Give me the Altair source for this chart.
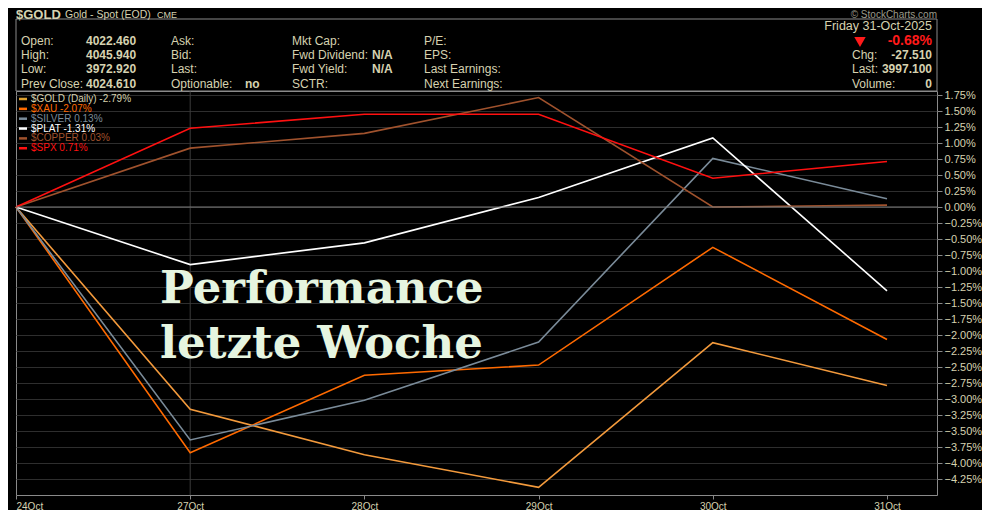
import altair as alt
import pandas as pd

# --- data -------------------------------------------------------------
dates = ["24Oct", "27Oct", "28Oct", "29Oct", "30Oct", "31Oct"]
symbols = ["$GOLD", "$XAU", "$SILVER", "$PLAT", "$COPPER", "$SPX"]
gold = [0.0, -3.16, -3.87, -4.38, -2.12, -2.79]
xau = [0.0, -3.84, -2.63, -2.47, -0.63, -2.07]
silver = [0.0, -3.64, -3.02, -2.11, 0.76, 0.13]
plat = [0.0, -0.90, -0.56, 0.15, 1.08, -1.31]
copper = [0.0, 0.92, 1.15, 1.71, 0.00, 0.03]
spx = [0.0, 1.23, 1.45, 1.45, 0.45, 0.71]
legend_labels = ["$GOLD (Daily) -2.79%", "$XAU -2.07%", "$SILVER 0.13%",
                 "$PLAT -1.31%", "$COPPER 0.03%", "$SPX 0.71%"]

line_colors = ["#f39a3c", "#ff6a00", "#7a8b99", "#ffffff", "#a0522d", "#ff1010"]
swatch_colors = ["#dca030", "#ff6a00", "#7a8b99", "#ffffff", "#a0522d", "#ff1010"]
label_colors = ["#d6d2b0", "#ff6a00", "#7a8b99", "#ffffff", "#a0522d", "#ff1010"]

col1_labels = ["Open:", "High:", "Low:", "Prev Close:"]
col1_values = ["4022.460", "4045.940", "3972.920", "4024.610"]
col2_labels = ["Ask:", "Bid:", "Last:", "Optionable:"]
col2_values = ["", "", "", "no"]
col3_labels = ["Mkt Cap:", "Fwd Dividend:", "Fwd Yield:", "SCTR:"]
col3_values = ["", "N/A", "N/A", ""]
col4_labels = ["P/E:", "EPS:", "Last Earnings:", "Next Earnings:"]
right_labels = ["", "Chg:", "Last:", "Volume:"]
right_values = ["-0.68%", "-27.510", "3997.100", "0"]

series = [gold, xau, silver, plat, copper, spx]
rows = []
for sym, vals in zip(symbols, series):
    for i, v in enumerate(vals):
        rows.append({"sym": sym, "idx": i, "pct": v})
df = pd.DataFrame(rows)

leg = pd.DataFrame({"i": range(len(symbols)), "label": legend_labels,
                    "swatch": swatch_colors, "tcol": label_colors})

KHAKI = "#d6d2b0"
FONT = "Liberation Sans"
W, H = 921, 404
one = pd.DataFrame({"a": [0]})
x_scale = alt.Scale(domain=[0, 5.287], nice=False, zero=False)
y_scale = alt.Scale(domain=[-4.5, 1.8125], nice=False, zero=False)


def txt(s, x, y, color=KHAKI, size=12, weight="normal", align="left", font=FONT):
    return alt.Chart(one).mark_text(
        text=s, align=align, baseline="middle", fontSize=size,
        fontWeight=weight, color=color, font=font
    ).encode(x=alt.value(x), y=alt.value(y))


label_expr = "[" + ",".join("'%s'" % d for d in dates) + "][datum.value]"
x_axis = alt.Axis(values=list(range(len(dates))), labelExpr=label_expr,
                  grid=False, domain=False, tickColor="#888888", tickSize=4,
                  labelColor=KHAKI, labelFontSize=10, labelFont=FONT,
                  labelFlush=True, labelPadding=2, title=None)
y_ticks = [round(-4.25 + 0.25 * i, 2) for i in range(25)]
y_axis = alt.Axis(orient="right", values=y_ticks,
                  labelExpr="format(datum.value, '.2f') + '%'",
                  gridColor="#2e2e2e", gridWidth=1, domain=False,
                  tickColor="#888888", tickSize=5, labelPadding=2,
                  labelColor=KHAKI, labelFontSize=11, labelFont=FONT,
                  labelFlush=False, labelOverlap=False, title=None)

lines = alt.Chart(df).mark_line(strokeWidth=1.6).encode(
    x=alt.X("idx:Q", scale=x_scale, axis=x_axis),
    y=alt.Y("pct:Q", scale=y_scale, axis=y_axis),
    color=alt.Color("sym:N", scale=alt.Scale(domain=symbols, range=line_colors), legend=None),
    order="idx:Q",
)

zero_line = alt.Chart(pd.DataFrame({"pct": [0]})).mark_rule(color="#7a7a7a", strokeWidth=1).encode(
    y=alt.Y("pct:Q", scale=y_scale, axis=y_axis)
)
week_line = alt.Chart(pd.DataFrame({"idx": [1]})).mark_rule(color="#3c3c3c", strokeWidth=1).encode(
    x=alt.X("idx:Q", scale=x_scale, axis=x_axis)
)

leg_swatch = alt.Chart(leg).mark_rule(strokeWidth=2.5).transform_calculate(
    py="8 + datum.i * 9.85"
).encode(x=alt.value(3), x2=alt.value(11), y=alt.Y("py:Q", scale=None),
         color=alt.Color("swatch:N", scale=None))
leg_text = alt.Chart(leg).mark_text(align="left", baseline="middle", fontSize=10, font=FONT).transform_calculate(
    py="8 + datum.i * 9.85"
).encode(x=alt.value(15), y=alt.Y("py:Q", scale=None), text="label:N",
         color=alt.Color("tcol:N", scale=None))

header_box = alt.Chart(one).mark_rect(fill="#000000", stroke="#8a8a8a", strokeWidth=1).encode(
    x=alt.value(0), x2=alt.value(W), y=alt.value(-72), y2=alt.value(0)
)

row_y = [-50.3, -36, -21.7, -7]
hdr = [
    txt("$GOLD", 0, -76, size=13, weight="bold"),
    txt("Gold - Spot (EOD)", 49, -76, size=10.5),
    txt("CME", 141, -76, size=9),
    txt("\u00a9 StockCharts.com", W, -76, color="#9a9a8a", size=10, align="right"),
    txt("Friday  31-Oct-2025", 916, -65, size=12.5, align="right"),
]
for i, y in enumerate(row_y):
    hdr.append(txt(col1_labels[i], 5, y))
    hdr.append(txt(col1_values[i], 70, y, weight="bold"))
    hdr.append(txt(col2_labels[i], 155, y))
    if col2_values[i]:
        hdr.append(txt(col2_values[i], 229, y, weight="bold"))
    hdr.append(txt(col3_labels[i], 276, y))
    if col3_values[i]:
        hdr.append(txt(col3_values[i], 356, y, weight="bold"))
    hdr.append(txt(col4_labels[i], 408, y))
    if right_labels[i]:
        hdr.append(txt(right_labels[i], 836, y))
    if i == 0:
        hdr.append(txt(right_values[i], 916, y, color="#ff1a1a", size=14, weight="bold", align="right"))
    else:
        hdr.append(txt(right_values[i], 916, y, weight="bold", align="right"))

triangle = alt.Chart(one).mark_point(shape="triangle-down", filled=True, color="#ff1a1a",
                                     size=130, opacity=1).encode(x=alt.value(844), y=alt.value(-49))

title1 = txt("Performance", 144, 198, color="#e6f5e0", size=45, weight="bold", font="DejaVu Serif")
title2 = txt("letzte Woche", 144, 253, color="#e6f5e0", size=45, weight="bold", font="DejaVu Serif")

chart = alt.layer(
    week_line, lines, zero_line, leg_swatch, leg_text, header_box, *hdr, triangle, title1, title2
).properties(
    width=W, height=H, autosize="none",
    padding={"left": 8, "top": 83, "right": 45, "bottom": 15},
    background="#000000",
).configure_view(
    fill="#000000", stroke="#8a8a8a", strokeWidth=1
)

chart.save("out.html", embed_options={"renderer": "svg", "actions": False})
